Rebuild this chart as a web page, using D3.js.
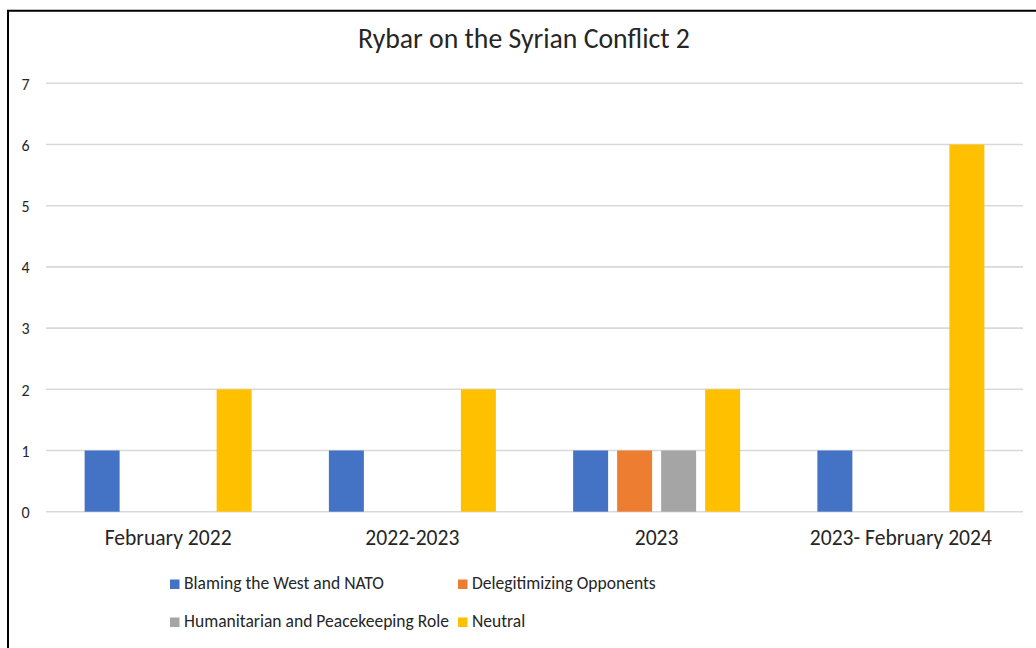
<!DOCTYPE html>
<html>
<head>
<meta charset="utf-8">
<script src="https://cdn.jsdelivr.net/npm/d3@7"></script>
<style>
  html, body { margin: 0; padding: 0; background: #fff; }
  svg { display: block; }
  text { font-family: Carlito, Lato, "Liberation Sans", sans-serif; fill: #262626; }
</style>
</head>
<body>
<svg id="chart" width="1036" height="648"></svg>
<script>
const title = "Rybar on the Syrian Conflict 2";
const categories = ["February 2022", "2022-2023", "2023", "2023- February 2024"];
const seriesNames = ["Blaming the West and NATO", "Delegitimizing Opponents", "Humanitarian and Peacekeeping Role", "Neutral"];
const blamingWest = [1, 1, 1, 1];
const delegitimizing = [0, 0, 1, 0];
const humanitarian = [0, 0, 1, 0];
const neutral = [2, 2, 2, 6];
const yTicks = [0, 1, 2, 3, 4, 5, 6, 7];
const colors = ["#4472C4", "#ED7D31", "#A5A5A5", "#FFC000"];

const seriesValues = [blamingWest, delegitimizing, humanitarian, neutral];

const svg = d3.select("#chart");
const W = 1036, H = 648;
const plot = { left: 46, right: 1023, top: 83.3, bottom: 511.7 };

// fit a text element's font-size to a target width
function fit(sel, base, target) {
  sel.style("font-size", base + "px");
  const w = sel.node().getComputedTextLength();
  sel.style("font-size", (base * target / w) + "px");
}

// border (top & left)
svg.append("path")
  .attr("d", `M8,${H} L8,10.8 L${W},10.8`)
  .attr("fill", "none").attr("stroke", "#000").attr("stroke-width", 2);

const y = d3.scaleLinear().domain([0, 7]).range([plot.bottom, plot.top]);
const x0 = d3.scaleBand().domain(categories).range([plot.left, plot.right]).paddingInner(0).paddingOuter(0);
const x1 = d3.scaleBand().domain(seriesNames).range([0, x0.bandwidth()]).paddingInner(0.205).paddingOuter(0.878);

// gridlines
svg.append("g").selectAll("line").data(yTicks).join("line")
  .attr("x1", plot.left).attr("x2", plot.right)
  .attr("y1", d => y(d)).attr("y2", d => y(d))
  .attr("stroke", "#D9D9D9").attr("stroke-width", 1.6);

// y axis labels
const yAxis = d3.axisLeft(y).tickValues(yTicks).tickFormat(d3.format("d")).tickSize(0).tickPadding(0);
const gy = svg.append("g").attr("transform", "translate(29.5,0)").call(yAxis);
gy.select(".domain").remove();
gy.attr("font-family", null).attr("font-size", null);
gy.selectAll("text").style("font-size", "16px").style("fill", "#262626").attr("dy", "0.36em");

// bars
const rows = categories.map((c, i) => ({ cat: c, vals: seriesNames.map((s, j) => ({ s, j, v: seriesValues[j][i] })) }));
const groups = svg.append("g").selectAll("g").data(rows).join("g")
  .attr("transform", d => `translate(${x0(d.cat)},0)`);
groups.selectAll("rect").data(d => d.vals.filter(e => e.v > 0)).join("rect")
  .attr("x", d => x1(d.s))
  .attr("width", x1.bandwidth())
  .attr("y", d => y(d.v))
  .attr("height", d => y(0) - y(d.v))
  .attr("fill", d => colors[d.j]);

// x axis labels
const xAxis = d3.axisBottom(x0).tickSize(0).tickPadding(0);
const gx = svg.append("g").call(xAxis);
gx.select(".domain").remove();
gx.attr("font-family", null).attr("font-size", null);
gx.selectAll("text").attr("y", 545).attr("dy", null).style("fill", "#262626");
gx.selectAll("text").filter(d => d === "February 2022").each(function () { fit(d3.select(this), 20, 127); });
const xfs = gx.selectAll("text").filter(d => d === "February 2022").style("font-size");
gx.selectAll("text").style("font-size", xfs);

// title
const t = svg.append("text").attr("x", 524).attr("y", 48).attr("text-anchor", "middle").text(title);
fit(t, 26, 332);

// legend
const legendPos = [
  { x: 170, y: 589 }, { x: 458, y: 589 },
  { x: 170, y: 627 }, { x: 458, y: 627 }
];
const lg = svg.append("g").selectAll("g").data(seriesNames).join("g")
  .attr("transform", (d, i) => `translate(${legendPos[i].x},${legendPos[i].y})`);
lg.append("rect").attr("x", 0).attr("y", -9.5).attr("width", 9.5).attr("height", 9.5)
  .attr("fill", (d, i) => colors[i]);
const lt = lg.append("text").attr("x", 14).attr("y", 0).text(d => d);
fit(d3.select(lt.nodes()[0]), 18, 200);
const lfs = d3.select(lt.nodes()[0]).style("font-size");
lt.style("font-size", lfs);
</script>
</body>
</html>
